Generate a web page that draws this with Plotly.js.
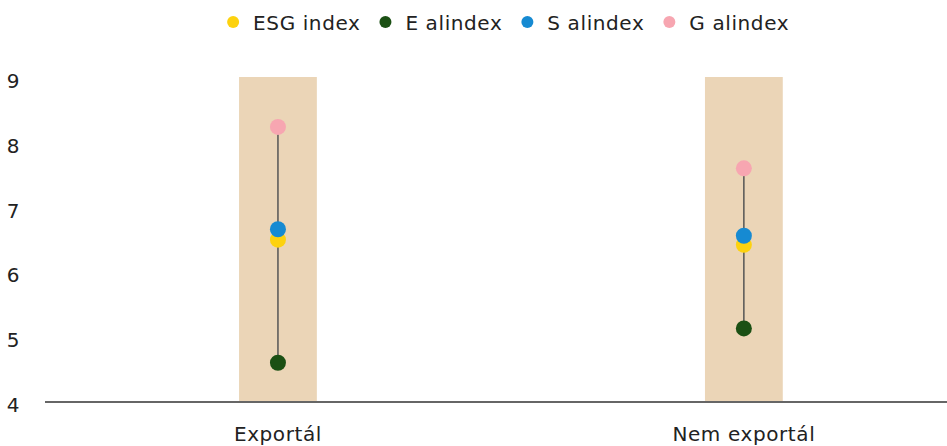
<!DOCTYPE html>
<html>
<head>
<meta charset="utf-8">
<script src="https://cdn.plot.ly/plotly-3.0.1.min.js"></script>
<style>
html,body{margin:0;padding:0;background:#fff;}
#chart{width:947px;height:446px;}
svg text{letter-spacing:0.6px;}
</style>
</head>
<body>
<div id="chart"></div>
<script>
const categories = ["Exportál", "Nem exportál"];
const esgIndex = [6.49, 6.41];
const eIndex = [4.59, 5.12];
const sIndex = [6.65, 6.55];
const gIndex = [8.23, 7.59];
const seriesNames = ["ESG index", "E alindex", "S alindex", "G alindex"];
const bandTop = [9, 9];

const colors = ["#FDD20E", "#1B5014", "#168AD2", "#F7A6B1"];
const FONT = "DejaVu Sans, sans-serif";

// connecting line from G to E per category
const lineX = [], lineY = [];
categories.forEach((c, i) => {
  lineX.push(c, c, null);
  lineY.push(gIndex[i], eIndex[i], null);
});

const traces = [
  {
    type: "bar", x: categories, y: bandTop, base: 4,
    marker: {color: "#EBD5B7"}, width: 0.167,
    showlegend: false, hoverinfo: "skip"
  },
  {
    type: "scatter", mode: "lines", x: lineX, y: lineY,
    line: {color: "#555555", width: 1.5},
    showlegend: false, hoverinfo: "skip"
  }
];
[esgIndex, eIndex, sIndex, gIndex].forEach((vals, k) => {
  traces.push({
    type: "scatter", mode: "markers", name: seriesNames[k],
    x: categories, y: vals,
    marker: {color: colors[k], size: 16}
  });
});

const layout = {
  width: 947, height: 446,
  margin: {l: 45, r: 0, t: 77, b: 45},
  paper_bgcolor: "#fff", plot_bgcolor: "#fff",
  font: {family: FONT, size: 20, color: "#222"},
  showlegend: true,
  legend: {
    orientation: "h", x: 0.509, xanchor: "center", y: 1.17, yanchor: "middle",
    font: {family: FONT, size: 20, color: "#222"},
    itemsizing: "constant", traceorder: "normal", itemwidth: 30
  },
  barmode: "overlay",
  xaxis: {
    type: "category", range: [-0.5, 1.436],
    showgrid: false, zeroline: false,
    showline: true, linecolor: "#666", linewidth: 1.5,
    ticks: "", ticklabelstandoff: 14,
    tickfont: {family: FONT, size: 20, color: "#222"}
  },
  yaxis: {
    range: [4, 9], tickvals: [4, 5, 6, 7, 8, 9],
    showgrid: false, zeroline: false, showline: false,
    ticks: "", ticklabelstandoff: 24, ticklabelshift: 4,
    tickfont: {family: FONT, size: 20, color: "#222"}
  }
};

Plotly.newPlot("chart", traces, layout, {displayModeBar: false, staticPlot: true});
</script>
</body>
</html>
